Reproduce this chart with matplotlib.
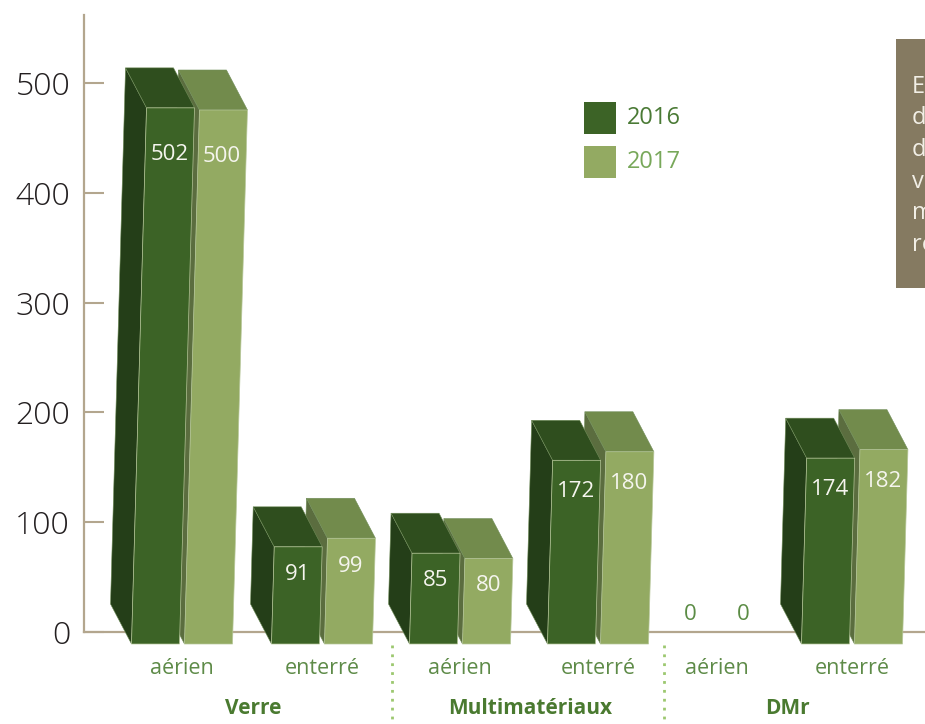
import matplotlib
matplotlib.use('Agg')
import matplotlib.pyplot as plt
from matplotlib.patches import Polygon, Rectangle

# ---------------- data ----------------
categories = ['aérien', 'enterré', 'aérien', 'enterré', 'aérien', 'enterré']
groups = ['Verre', 'Multimatériaux', 'DMr']
series_names = ['2016', '2017']
values_2016 = [502, 91, 85, 172, 0, 174]
values_2017 = [500, 99, 80, 180, 0, 182]
y_ticks = [0, 100, 200, 300, 400, 500]
note_lines = ['E', 'd', 'd', 'v', 'm', 're']   # side note, cut by the page edge

# ---------------- layout / style ----------------
FW, FH, DPI = 925, 724, 100
FONT = 'Open Sans'
plt.rcParams['font.family'] = [FONT, 'DejaVu Sans']

cat_x = [182, 322, 460, 598, 717, 852]          # pair centres (x units = px)
sep_x = [392, 664]
group_x = [253, 530, 787]

front_cols = ['#3c6326', '#93aa62']
top_cols = ['#2f4e1e', '#728b4c']
side_cols = ['#243e18', '#5b6d3f']
edge_cols = ['#6f8c58', '#b7c79a']
legend_text_cols = ['#4a7a35', '#78a85a']

fig = plt.figure(figsize=(FW / DPI, FH / DPI), dpi=DPI)
ax_l, ax_r, ax_b, ax_t = 84, 925, 632, 15
ax = fig.add_axes([ax_l / FW, (FH - ax_b) / FH, (ax_r - ax_l) / FW, (ax_b - ax_t) / FH])
ppu = 1.098                                   # px per value unit on the axis
ax.set_xlim(ax_l, ax_r)
ax.set_ylim(0, (ax_b - ax_t) / ppu)

axis_col = '#b3a68e'
for s in ['top', 'right']:
    ax.spines[s].set_visible(False)
for s in ['left', 'bottom']:
    ax.spines[s].set_color(axis_col)
    ax.spines[s].set_linewidth(1.6)
    ax.spines[s].set_zorder(1)
ax.set_xticks([])
ax.set_yticks(y_ticks)
ax.set_yticklabels([str(t) for t in y_ticks], fontweight='light')
ax.tick_params(axis='y', direction='in', length=14.5, width=1.5, color=axis_col,
               labelsize=23, labelcolor='#231f20', pad=10)
ax.patch.set_alpha(0)

# 3D-ish bar geometry
W_BAR = 48
GAP = 5
Y0 = -12 / ppu
FRONT_SCALE = 1.068 / ppu
SLANT = 0.028                # px of lean per px height
DX = -21                     # depth offset (px)
DY = 40 / ppu                # depth offset (units)

def draw_bar(xl, v, k):
    h = v * FRONT_SCALE
    s = SLANT * h * ppu
    yt = Y0 + h
    side = [(xl, Y0), (xl + s, yt), (xl + s + DX, yt + DY), (xl + DX, Y0 + DY)]
    top = [(xl + s, yt), (xl + s + W_BAR, yt), (xl + s + W_BAR + DX, yt + DY), (xl + s + DX, yt + DY)]
    front = [(xl, Y0), (xl + W_BAR, Y0), (xl + W_BAR + s, yt), (xl + s, yt)]
    ax.add_patch(Polygon(side, closed=True, fc=side_cols[k], ec=edge_cols[0], lw=0.4, zorder=3, clip_on=False))
    ax.add_patch(Polygon(top, closed=True, fc=top_cols[k], ec=edge_cols[0], lw=0.4, zorder=3, clip_on=False))
    ax.add_patch(Polygon(front, closed=True, fc=front_cols[k], ec=edge_cols[1], lw=0.5, zorder=3, clip_on=False))
    # value label
    ly = v * 0.93 - 32
    frac = (ly - Y0) / h if h else 0
    lx = xl + W_BAR / 2 + s * frac
    ax.text(lx, ly, str(v), ha='center', va='center', fontsize=16, color='#f5f5ee', zorder=5)

series = [values_2016, values_2017]
for i, c in enumerate(cat_x):
    lefts = [c - GAP / 2 - W_BAR, c + GAP / 2]
    for k in [1, 0]:
        v = series[k][i]
        if v == 0:
            ax.text(lefts[k] + W_BAR / 2, 16, '0', ha='center', va='center',
                    fontsize=16, color='#5b8c45', zorder=5)
        else:
            draw_bar(lefts[k], v, k)

# category and group labels
for c, lab in zip(cat_x, categories):
    ax.text(c, (ax_b - 669) / ppu, lab, ha='center', va='center', fontsize=15.5,
            color='#5e8b48', clip_on=False)
for gx, g in zip(group_x, groups):
    ax.text(gx, (ax_b - 708) / ppu, g, ha='center', va='center', fontsize=15,
            fontweight='bold', color='#4a7a30', clip_on=False)
for sx in sep_x:
    ax.plot([sx, sx], [(ax_b - 645) / ppu, (ax_b - 724) / ppu], linestyle=(0, (1, 2.2)),
            lw=2, color='#9cc86f', clip_on=False, zorder=2)

# legend (squares + labels)
for k, name in enumerate(series_names):
    top_px = 102 + k * 44
    fig.patches.append(Rectangle((584 / FW, 1 - (top_px + 32) / FH), 32 / FW, 32 / FH,
                                 transform=fig.transFigure, fc=front_cols[k], ec='none'))
    fig.text(627 / FW, 1 - (top_px + 16) / FH, name, ha='left', va='center',
             fontsize=17, color=legend_text_cols[k])

# side note box (cut by figure edge)
fig.patches.append(Rectangle((896 / FW, 1 - 288 / FH), 60 / FW, (288 - 39) / FH,
                             transform=fig.transFigure, fc='#857a61', ec='none', zorder=0))
for j, line in enumerate(note_lines):
    fig.text(912 / FW, 1 - (87 + j * 31.5) / FH, line, ha='left', va='center',
             fontsize=17, color='#f2efe6')

fig.savefig('out.png', dpi=DPI)
